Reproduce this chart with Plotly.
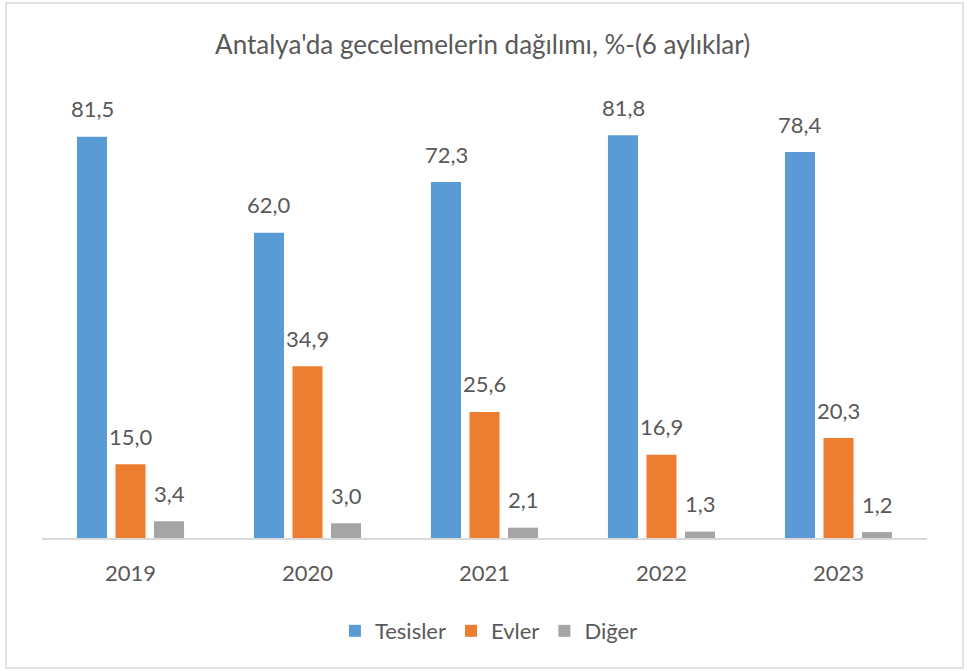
import plotly.graph_objects as go

# data
YEARS = ["2019", "2020", "2021", "2022", "2023"]
TESISLER = [81.5, 62.0, 72.3, 81.8, 78.4]
EVLER = [15.0, 34.9, 25.6, 16.9, 20.3]
DIGER = [3.4, 3.0, 2.1, 1.3, 1.2]

SERIES = [
    ("Tesisler", TESISLER, "#5B9BD5", -38.5),
    ("Evler", EVLER, "#ED7D31", 0),
    ("Diğer", DIGER, "#A5A5A5", 38.5),
]

FONT = "Lato, 'Open Sans', sans-serif"
TXT = "#595959"

fig = go.Figure()
annotations = []
for name, vals, color, dx in SERIES:
    fig.add_trace(go.Bar(name=name, x=YEARS, y=vals, marker_color=color,
                         marker_line_width=0, hoverinfo="skip"))
    # value labels sit well above each bar, as in the Excel original
    for i, v in enumerate(vals):
        annotations.append(dict(
            x=i, y=v, text=f"{v:.1f}".replace(".", ","), showarrow=False,
            xshift=dx, yshift=28, yanchor="middle",
            font=dict(size=22, color=TXT, family=FONT)))

fig.update_layout(
    width=979, height=671,
    margin=dict(l=42, r=52, t=95, b=133, autoexpand=False),
    paper_bgcolor="white", plot_bgcolor="white",
    barmode="group", bargap=0.347, bargroupgap=0.22,
    font=dict(family=FONT, color=TXT, size=22),
    title=dict(text="Antalya'da gecelemelerin dağılımı, %-(6 aylıklar)",
               x=0.493, xanchor="center", y=0.933, yanchor="middle",
               font=dict(size=26, color=TXT, family=FONT)),
    legend=dict(orientation="h", x=0.505, xanchor="center", y=-0.21, yanchor="middle",
                font=dict(size=22, color=TXT), itemwidth=30, traceorder="normal"),
    annotations=annotations,
    shapes=[dict(type="rect", xref="paper", yref="paper",
                 x0=-0.0407, x1=1.0407, y0=-0.2935, y1=1.2077,
                 line=dict(color="#D9D9D9", width=1.5))],
)
fig.update_xaxes(type="category", range=[-0.5, 4.5], showline=True, linecolor="#D9D9D9",
                 linewidth=1.5, ticks="", showgrid=False, ticklabelstandoff=15,
                 tickfont=dict(size=22, color=TXT))
fig.update_yaxes(range=[0, 90], visible=False, showgrid=False)

fig.write_html("out.html", config={"displayModeBar": False},
               post_script="document.body.style.margin='0';")
